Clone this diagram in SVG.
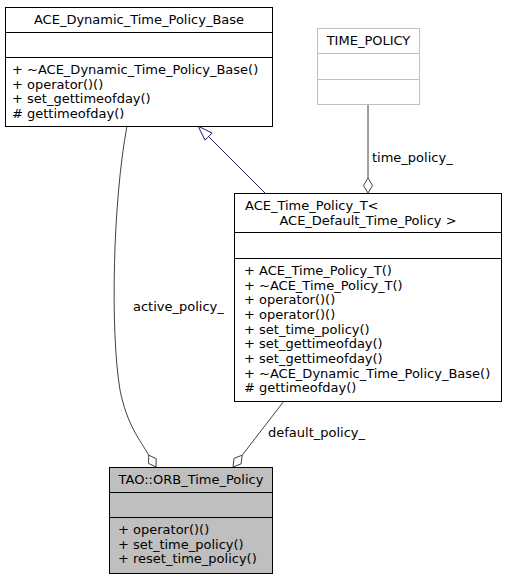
<svg xmlns="http://www.w3.org/2000/svg" width="507" height="579" viewBox="0 0 507 579">
<style>
text{font-family:"DejaVu Sans","Liberation Sans",sans-serif;font-size:13px;fill:#000}
.box{fill:#fff;stroke:#000;stroke-width:1}
.gbox{fill:#fff;stroke:#bfbfbf;stroke-width:1}
.cur{fill:#bfbfbf;stroke:#000;stroke-width:1}
.sep{stroke:#000;stroke-width:1}
.gsep{stroke:#bfbfbf;stroke-width:1}
.c{text-anchor:middle}
.agg{fill:none;stroke:#404040;stroke-width:1}
.dia{fill:#fff;stroke:#404040;stroke-width:1}
.inh{fill:none;stroke:#191970;stroke-width:1}
.tri{fill:#fff;stroke:#191970;stroke-width:1}
</style>
<g id="connectors">
<path class="inh" d="M265,193 L208.6,136.6"/>
<polygon class="tri" points="198,126 205.1,140.1 212.1,133.1"/>
<path class="agg" d="M368,104 L368,178"/>
<polygon class="dia" points="368,193 363.5,185.5 368,178 372.5,185.5"/>
<text x="372" y="162">time_policy_</text>
<path class="agg" d="M127,126 C113,200 110,330 120,390 C127,425 140,440 148.7,455.1"/>
<polygon class="dia" points="156,467 148.5,463.4 148.7,455.1 156.2,458.7"/>
<text x="133" y="311">active_policy_</text>
<path class="agg" d="M284,401 L242.2,455.2"/>
<polygon class="dia" points="233,467 234.1,458.3 242.2,455.2 241.1,463.9"/>
<text x="268" y="437">default_policy_</text>
</g>
<g id="node_base">
<rect class="box" x="5.5" y="7.5" width="267" height="119"/>
<line class="sep" x1="5.5" y1="32.5" x2="272.5" y2="32.5"/>
<line class="sep" x1="5.5" y1="57.5" x2="272.5" y2="57.5"/>
<text class="c" x="139" y="24">ACE_Dynamic_Time_Policy_Base</text>
<text x="12" y="74">+ ~ACE_Dynamic_Time_Policy_Base()</text>
<text x="12" y="88.7">+ operator()()</text>
<text x="12" y="103.3">+ set_gettimeofday()</text>
<text x="12" y="118">#  gettimeofday()</text>
</g>
<g id="node_time_policy">
<rect class="gbox" x="317.5" y="28.5" width="102" height="76"/>
<line class="gsep" x1="317.5" y1="53.5" x2="419.5" y2="53.5"/>
<line class="gsep" x1="317.5" y1="79.5" x2="419.5" y2="79.5"/>
<text class="c" x="368.5" y="45">TIME_POLICY</text>
</g>
<g id="node_time_policy_t">
<rect class="box" x="234.5" y="193.5" width="267" height="208"/>
<line class="sep" x1="234.5" y1="232.5" x2="501.5" y2="232.5"/>
<line class="sep" x1="234.5" y1="258.5" x2="501.5" y2="258.5"/>
<text x="245" y="210">ACE_Time_Policy_T&lt;</text>
<text class="c" x="368" y="225">ACE_Default_Time_Policy &gt;</text>
<text x="244" y="275">+ ACE_Time_Policy_T()</text>
<text x="244" y="289.7">+ ~ACE_Time_Policy_T()</text>
<text x="244" y="304.3">+ operator()()</text>
<text x="244" y="319">+ operator()()</text>
<text x="244" y="333.7">+ set_time_policy()</text>
<text x="244" y="348.3">+ set_gettimeofday()</text>
<text x="244" y="363">+ set_gettimeofday()</text>
<text x="244" y="377.7">+ ~ACE_Dynamic_Time_Policy_Base()</text>
<text x="244" y="392.3">#  gettimeofday()</text>
</g>
<g id="node_orb_time_policy">
<rect class="cur" x="109.5" y="467.5" width="163" height="106"/>
<line class="sep" x1="109.5" y1="492.5" x2="272.5" y2="492.5"/>
<line class="sep" x1="109.5" y1="517.5" x2="272.5" y2="517.5"/>
<text class="c" x="191" y="484">TAO::ORB_Time_Policy</text>
<text x="118" y="534">+ operator()()</text>
<text x="118" y="548.7">+ set_time_policy()</text>
<text x="118" y="563.3">+ reset_time_policy()</text>
</g>
</svg>
